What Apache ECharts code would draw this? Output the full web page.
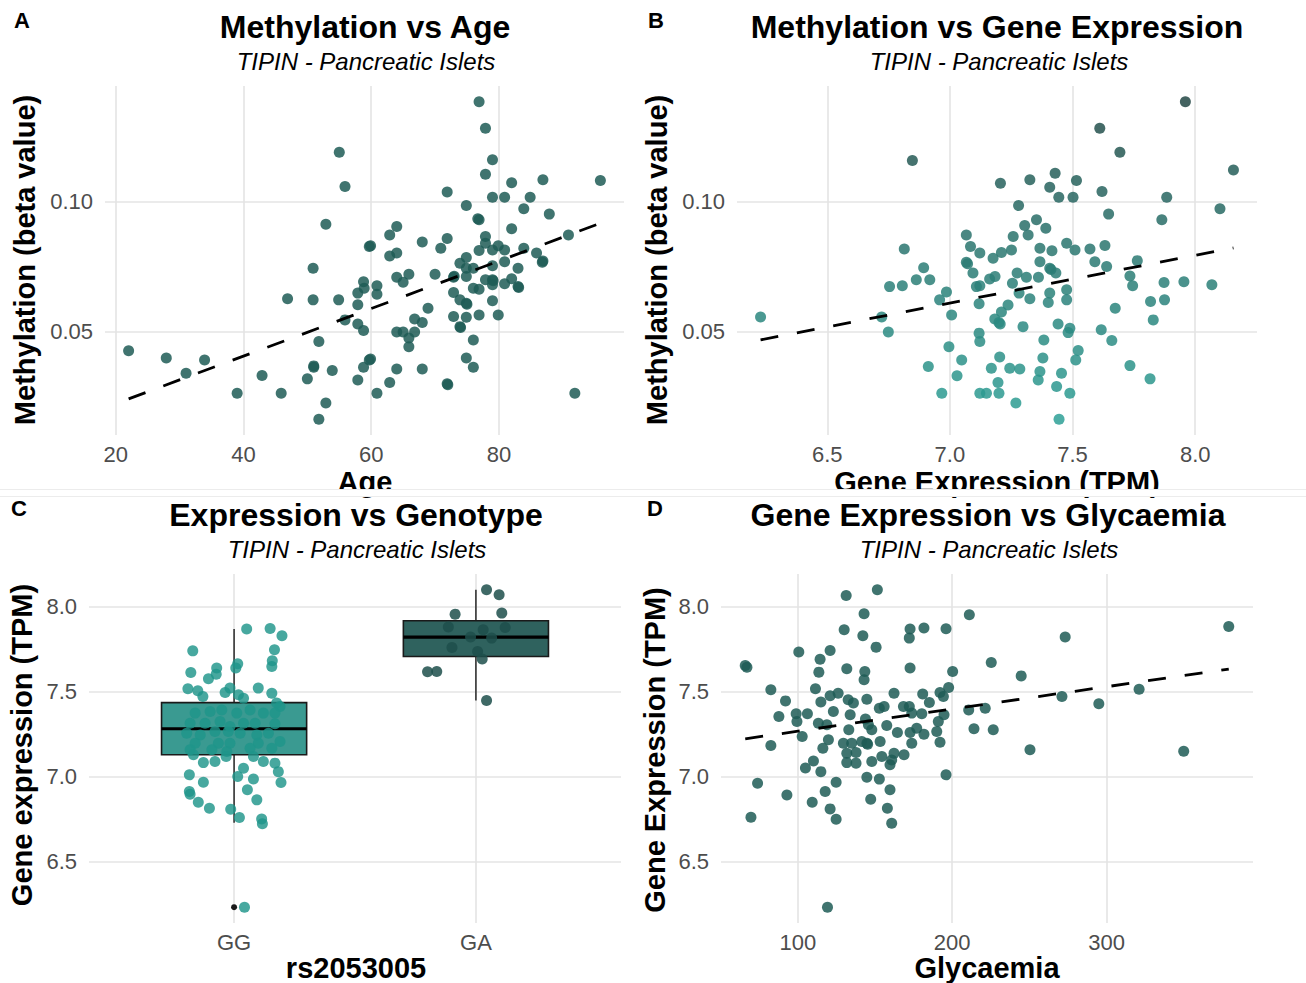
<!DOCTYPE html>
<html>
<head>
<meta charset="utf-8">
<title>TIPIN - Pancreatic Islets</title>
<script src="https://cdn.jsdelivr.net/npm/echarts@6/dist/echarts.min.js"></script>
<style>
  html, body { margin: 0; padding: 0; background: #ffffff; }
  #chart { width: 1306px; height: 983px; }
</style>
</head>
<body>
<div id="chart"></div>
<script>
// ---------- Panel A: methylation (beta value) against age ----------
const ageMethylation = [
  [55.0,0.1191],[55.9,0.1059],[52.9,0.0914],[59.7,0.0828],[50.9,0.0745],[46.9,0.0627],[50.9,0.0623],[54.9,0.0623],
  [58.8,0.0693],[57.9,0.0649],[57.9,0.0604],[55.9,0.0546],[57.9,0.0530],[58.8,0.0505],[51.8,0.0463],[22.0,0.0427],
  [27.9,0.0399],[33.9,0.0392],[31.0,0.0341],[51.0,0.0369],[51.0,0.0364],[53.9,0.0351],[50.0,0.0319],[42.9,0.0332],
  [57.9,0.0315],[59.7,0.0392],[58.8,0.0364],[39.0,0.0264],[45.9,0.0264],[52.9,0.0226],[51.8,0.0164],
  [76.9,0.1385],[77.9,0.1283],[79.0,0.1162],[77.9,0.1106],[82.0,0.1074],[86.9,0.1085],[95.9,0.1082],[71.9,0.1038],
  [79.0,0.1018],[80.9,0.1018],[84.9,0.1018],[83.9,0.0974],[87.9,0.0953],[74.9,0.0986],[76.9,0.0931],[76.7,0.0935],
  [64.0,0.0905],[62.9,0.0873],[59.9,0.0831],[62.9,0.0792],[64.0,0.0803],[68.0,0.0846],[70.9,0.0822],[71.9,0.0859],
  [77.9,0.0867],[77.9,0.0841],[76.9,0.0813],[79.0,0.0815],[79.9,0.0831],[80.9,0.0815],[82.0,0.0897],[83.9,0.0822],
  [85.9,0.0803],[86.9,0.0773],[86.8,0.0768],[90.9,0.0873],[74.9,0.0786],[73.9,0.0764],[74.9,0.0745],[76.0,0.0745],
  [79.0,0.0754],[80.9,0.0770],[83.0,0.0745],[72.9,0.0710],[73.0,0.0714],[74.9,0.0713],[70.0,0.0722],[65.9,0.0722],
  [64.0,0.0710],[65.0,0.0691],[58.9,0.0668],[60.9,0.0677],[60.9,0.0645],[76.0,0.0668],[76.9,0.0664],[77.9,0.0700],
  [79.0,0.0700],[79.1,0.0697],[79.0,0.0681],[80.9,0.0685],[82.0,0.0704],[83.0,0.0674],[83.1,0.0671],[72.9,0.0651],
  [73.9,0.0623],[74.9,0.0610],[75.0,0.0606],[79.0,0.0620],[68.9,0.0591],[66.8,0.0549],[68.0,0.0536],[72.9,0.0559],
  [74.9,0.0556],[76.9,0.0565],[79.9,0.0565],[73.9,0.0520],[74.0,0.0517],[64.0,0.0499],[65.0,0.0499],[65.9,0.0476],
  [66.8,0.0499],[65.9,0.0443],[76.0,0.0469],[59.9,0.0395],[64.0,0.0357],[68.0,0.0357],[74.9,0.0399],[76.0,0.0364],
  [62.9,0.0305],[60.9,0.0264],[71.9,0.0300],[72.0,0.0296],[91.9,0.0264]
];
const ageTrend = [[22.0,0.0242],[95.9,0.0918]];

// ---------- Panel B: methylation against gene expression (TPM) ----------
const expressionMethylation = [
  [6.847,0.1159],[6.228,0.0557],[6.749,0.0499],[6.722,0.0557],[6.754,0.0674],[6.806,0.0677],[6.814,0.0819],[6.863,0.0700],
  [6.893,0.0747],[6.918,0.0700],[6.986,0.0653],[6.958,0.0623],[7.007,0.0565],[6.996,0.0443],[6.912,0.0367],[7.048,0.0392],
  [7.029,0.0331],[6.967,0.0264],[7.067,0.0873],[7.084,0.0828],[7.067,0.0768],[7.072,0.0762],[7.094,0.0726],[7.108,0.0674],
  [7.119,0.0608],[7.119,0.0495],[7.122,0.0463],[7.122,0.0264],
  [7.960,0.1385],[7.611,0.1283],[7.693,0.1191],[8.156,0.1123],[7.429,0.1110],[7.326,0.1085],[7.206,0.1072],[7.516,0.1082],
  [7.407,0.1056],[7.620,0.1040],[7.444,0.1018],[7.502,0.1018],[7.884,0.1018],[8.101,0.0974],[7.280,0.0986],[7.647,0.0953],
  [7.864,0.0931],[7.353,0.0931],[7.305,0.0909],[7.391,0.0899],[7.319,0.0873],[7.258,0.0867],[7.122,0.0803],[7.176,0.0783],
  [7.210,0.0805],[7.251,0.0815],[7.367,0.0822],[7.416,0.0812],[7.476,0.0841],[7.510,0.0815],[7.571,0.0819],[7.632,0.0832],
  [7.367,0.0770],[7.407,0.0745],[7.412,0.0740],[7.432,0.0726],[7.591,0.0770],[7.639,0.0751],[7.764,0.0774],[7.734,0.0715],
  [7.745,0.0677],[7.122,0.0677],[7.162,0.0703],[7.184,0.0713],[7.274,0.0726],[7.312,0.0710],[7.361,0.0710],[7.255,0.0687],
  [7.282,0.0649],[7.326,0.0627],[7.407,0.0649],[7.401,0.0613],[7.476,0.0662],[7.476,0.0623],[7.237,0.0603],[7.210,0.0576],
  [7.183,0.0549],[7.200,0.0536],[7.205,0.0530],[7.298,0.0520],[7.441,0.0530],[7.489,0.0514],[7.482,0.0497],[7.674,0.0591],
  [7.818,0.0617],[7.875,0.0623],[7.873,0.0690],[7.954,0.0693],[8.068,0.0681],[7.829,0.0546],[7.617,0.0508],[7.660,0.0467],
  [7.734,0.0370],[7.816,0.0319],[7.383,0.0469],[7.379,0.0399],[7.523,0.0428],[7.513,0.0392],[7.203,0.0403],[7.169,0.0360],
  [7.244,0.0360],[7.285,0.0357],[7.367,0.0347],[7.360,0.0315],[7.455,0.0341],[7.196,0.0305],[7.149,0.0264],[7.200,0.0264],
  [7.435,0.0290],[7.489,0.0264],[7.269,0.0226],[7.445,0.0164]
];
const expressionTrend = [[6.228,0.0469],[8.156,0.0823]];

// ---------- Panel C: expression by rs2053005 genotype ----------
const genotypes = ['GG', 'GA'];
// five-number summaries: lower whisker, Q1, median, Q3, upper whisker
const genotypeBoxStats = [
  [6.729, 7.128, 7.281, 7.435, 7.867],
  [7.447, 7.706, 7.820, 7.916, 8.098]
];
const ggOutliers = [6.232];
const ggExpression = [
  7.867,7.871,7.828,7.739,7.745,7.681,7.647,7.663,7.638,7.638,7.612,7.602,7.575,7.516,7.504,7.471,7.494,7.520,7.481,7.520,
  7.490,7.432,7.412,7.461,7.373,7.382,7.392,7.373,7.392,7.373,7.373,7.314,7.314,7.324,7.294,7.314,7.314,7.310,7.255,7.245,
  7.265,7.265,7.255,7.245,7.255,7.196,7.196,7.196,7.196,7.206,7.157,7.157,7.147,7.167,7.167,7.128,7.082,7.088,7.118,7.118,
  7.088,7.079,7.029,7.049,7.010,7.000,6.986,6.965,6.967,6.912,6.896,6.922,6.849,6.863,6.814,6.808,6.759,6.751,6.722,6.232
];
const ggJitter = [
  0.052,0.149,0.198,-0.171,0.167,0.158,0.156,0.015,0.007,-0.072,-0.179,-0.074,-0.106,-0.191,-0.150,-0.129,-0.037,-0.017,0.018,0.100,
  0.156,0.176,0.190,0.039,-0.161,-0.099,-0.051,0.011,0.066,0.121,0.169,-0.182,-0.120,-0.058,-0.017,0.039,0.087,0.169,-0.196,-0.140,
  -0.079,-0.024,0.025,0.094,0.142,-0.161,-0.065,-0.017,0.100,0.190,-0.182,-0.092,-0.030,0.066,0.156,-0.168,-0.127,-0.079,-0.033,0.080,
  0.121,0.169,0.183,0.039,-0.185,0.015,0.080,0.194,-0.127,-0.185,-0.182,0.055,-0.148,0.094,-0.102,-0.014,0.022,0.114,0.117,0.043
];
const gaExpression = [8.098,8.069,7.955,7.961,7.879,7.876,7.863,7.820,7.814,7.759,7.735,7.691,7.616,7.618,7.447];
const gaJitter = [0.044,0.096,-0.086,0.107,-0.114,0.121,0.030,-0.022,0.065,-0.099,0.007,0.026,-0.200,-0.162,0.044];

// ---------- Panel D: gene expression against glycaemia ----------
const glycaemiaExpression = [
  [65.9,7.653],[67.0,7.643],[131.3,8.065],[151.5,8.098],[142.9,7.957],[130.0,7.863],[142.1,7.828],[150.7,7.761],
  [100.6,7.732],[120.9,7.741],[114.4,7.690],[113.6,7.614],[131.7,7.634],[143.4,7.618],[142.9,7.569],[172.7,7.867],
  [172.2,7.814],[181.7,7.873],[196.0,7.869],[211.1,7.951],[172.7,7.638],[200.3,7.618],[225.3,7.671],[82.5,7.510],
  [92.0,7.445],[87.7,7.353],[98.9,7.369],[99.4,7.324],[106.2,7.369],[102.8,7.235],[82.5,7.182],[111.4,7.516],
  [114.9,7.438],[120.9,7.475],[126.1,7.490],[123.0,7.382],[113.3,7.314],[118.8,7.304],[132.6,7.451],[136.0,7.432],
  [133.9,7.363],[133.0,7.275],[144.7,7.455],[143.8,7.338],[152.8,7.402],[155.9,7.412],[162.3,7.490],[168.4,7.412],
  [172.2,7.412],[173.8,7.373],[180.3,7.369],[180.9,7.485],[185.2,7.435],[192.1,7.494],[194.3,7.471],[197.7,7.524],
  [194.7,7.363],[191.0,7.324],[190.0,7.265],[192.1,7.202],[210.7,7.392],[221.4,7.402],[214.1,7.281],[226.6,7.275],
  [196.0,7.010],[145.7,7.304],[147.9,7.275],[157.6,7.300],[164.5,7.259],[172.7,7.259],[173.8,7.196],[181.7,7.249],
  [177.0,7.284],[129.5,7.196],[134.9,7.196],[141.4,7.206],[144.7,7.196],[145.2,7.190],[153.3,7.206],[119.8,7.216],
  [116.2,7.167],[131.7,7.137],[137.7,7.141],[131.7,7.082],[137.7,7.079],[147.9,7.088],[154.4,7.118],[160.8,7.098],
  [159.7,7.069],[162.3,7.137],[168.8,7.128],[110.1,7.092],[104.9,7.051],[114.9,7.029],[144.7,6.996],[152.8,6.985],
  [124.8,6.967],[117.7,6.912],[73.9,6.961],[92.9,6.892],[109.3,6.849],[147.2,6.867],[159.7,6.922],[120.9,6.810],
  [124.8,6.749],[158.0,6.814],[160.8,6.726],[69.6,6.761],[119.2,6.232],[379.2,7.882],[273.2,7.820],[244.7,7.592],
  [271.1,7.471],[250.4,7.157],[295.0,7.428],[321.1,7.514],[350.0,7.149]
];
const glycaemiaTrend = [[65.9,7.222],[379.2,7.632]];

// ---------- tick labels ----------
const ageTicks = [20, 40, 60, 80];
const methylationTicks = [0.05, 0.10];
const expressionTicks = [6.5, 7.0, 7.5, 8.0];
const genotypeTicks = [1, 2];
const glycaemiaTicks = [100, 200, 300];

// ---------- styling ----------
const FONT = '"Liberation Sans", Arial, sans-serif';
const GRID_COLOR = '#e4e4e4';
const TICK_COLOR = '#4d4d4d';
const POINT_DARK = '#1f5c56';
const GG_FILL = '#3a9a91';
const GA_FILL = '#2f625e';
const POINT_SIZE = 11;

function valueAxis(gridIndex, min, max, ticks, fmt, isY) {
  return {
    type: 'value', gridIndex, min, max, scale: true,
    axisLine: { show: false },
    axisTick: { show: false, customValues: ticks },
    splitLine: { show: true, lineStyle: { color: GRID_COLOR, width: 1.6 } },
    axisLabel: {
      customValues: ticks, formatter: fmt,
      color: TICK_COLOR, fontSize: 22, fontFamily: FONT,
      margin: isY ? 12 : 8
    }
  };
}

const fixed = d => v => Number(v).toFixed(d);

const trendLine = (xi, yi, data) => ({
  type: 'line', xAxisIndex: xi, yAxisIndex: yi, data,
  showSymbol: false, silent: true, z: 5,
  lineStyle: { color: '#000', width: 2.8, type: [18, 19] }
});

const scatter = (xi, yi, data, color, extra) => Object.assign({
  type: 'scatter', xAxisIndex: xi, yAxisIndex: yi, data,
  symbolSize: POINT_SIZE, silent: true,
  itemStyle: { color, opacity: 0.85 }
}, extra || {});

function renderBox(params, api) {
  const x = api.value(0);
  const half = api.size([0.3, 0])[0];
  const pLo = api.coord([x, api.value(1)]);
  const pQ1 = api.coord([x, api.value(2)]);
  const pMed = api.coord([x, api.value(3)]);
  const pQ3 = api.coord([x, api.value(4)]);
  const pHi = api.coord([x, api.value(5)]);
  const fill = params.dataIndex === 0 ? GG_FILL : GA_FILL;
  return {
    type: 'group',
    children: [
      { type: 'line', shape: { x1: pHi[0], y1: pHi[1], x2: pQ3[0], y2: pQ3[1] }, style: { stroke: '#333', lineWidth: 1.6 } },
      { type: 'line', shape: { x1: pQ1[0], y1: pQ1[1], x2: pLo[0], y2: pLo[1] }, style: { stroke: '#333', lineWidth: 1.6 } },
      { type: 'rect', shape: { x: pQ3[0] - half, y: pQ3[1], width: half * 2, height: pQ1[1] - pQ3[1] },
        style: { fill, stroke: '#1a1a1a', lineWidth: 1.6 } },
      { type: 'line', shape: { x1: pMed[0] - half, y1: pMed[1], x2: pMed[0] + half, y2: pMed[1] }, style: { stroke: '#000', lineWidth: 3.2 } }
    ]
  };
}

function text(x, y, str, font, extra) {
  return Object.assign({
    type: 'text', x, y, silent: true, z: 20,
    style: { text: str, font, fill: '#000', align: 'center', verticalAlign: 'middle' }
  }, extra || {});
}

const TITLE_FONT = 'bold 32px ' + FONT;
const SUB_FONT = 'italic 24px ' + FONT;
const AXIS_FONT = 'bold 29px ' + FONT;
const TAG_FONT = 'bold 22px ' + FONT;
const vertical = { rotation: Math.PI / 2 };

const chart = echarts.init(document.getElementById('chart'), null, { renderer: 'svg' });

chart.setOption({
  backgroundColor: '#ffffff',
  animation: false,
  grid: [
    { left: 105, top: 86, width: 519, height: 349 },
    { left: 737, top: 86, width: 520, height: 349 },
    { left: 89, top: 574, width: 532, height: 349 },
    { left: 721, top: 574, width: 532, height: 349 }
  ],
  xAxis: [
    valueAxis(0, 18.3, 99.6, ageTicks, v => String(v), false),
    valueAxis(1, 6.132, 8.252, expressionTicks, fixed(1), false),
    valueAxis(2, 0.4, 2.6, genotypeTicks, v => genotypes[Math.round(v) - 1], false),
    valueAxis(3, 50.2, 394.9, glycaemiaTicks, v => String(v), false)
  ],
  yAxis: [
    valueAxis(0, 0.0103, 0.1446, methylationTicks, fixed(2), true),
    valueAxis(1, 0.0103, 0.1446, methylationTicks, fixed(2), true),
    valueAxis(2, 6.139, 8.191, expressionTicks, fixed(1), true),
    valueAxis(3, 6.139, 8.191, expressionTicks, fixed(1), true)
  ],
  visualMap: [{
    type: 'continuous', show: false, seriesIndex: 2, dimension: 1,
    min: 0.016, max: 0.139,
    inRange: { color: ['#2ea096', '#2b7a73', '#234845'] }
  }],
  series: [
    scatter(0, 0, ageMethylation, POINT_DARK),
    trendLine(0, 0, ageTrend),
    scatter(1, 1, expressionMethylation, '#2b7a73'),
    trendLine(1, 1, expressionTrend),
    {
      type: 'custom', xAxisIndex: 2, yAxisIndex: 2, silent: true, z: 1,
      data: genotypeBoxStats.map((s, i) => [genotypeTicks[i]].concat(s)),
      encode: { x: 0, y: [1, 2, 3, 4, 5] },
      renderItem: renderBox
    },
    scatter(2, 2, ggExpression.map((v, i) => [genotypeTicks[0] + ggJitter[i], v]), '#1f958a', { z: 3, itemStyle: { color: '#1f958a', opacity: 0.82 } }),
    scatter(2, 2, gaExpression.map((v, i) => [genotypeTicks[1] + gaJitter[i], v]), '#1d4f4b', { z: 3 }),
    scatter(2, 2, ggOutliers.map(v => [genotypeTicks[0], v]), '#1a1a1a', { symbolSize: 6, z: 2, itemStyle: { color: '#1a1a1a', opacity: 1 } }),
    scatter(3, 3, glycaemiaExpression, POINT_DARK),
    trendLine(3, 3, glycaemiaTrend)
  ],
  graphic: [
    // panel tags
    text(22, 20, 'A', TAG_FONT),
    text(656, 20, 'B', TAG_FONT),
    text(19, 508, 'C', TAG_FONT),
    text(655, 508, 'D', TAG_FONT),
    // titles and subtitles
    text(365, 27, 'Methylation vs Age', TITLE_FONT),
    text(366, 61, 'TIPIN - Pancreatic Islets', SUB_FONT),
    text(997, 27, 'Methylation vs Gene Expression', TITLE_FONT),
    text(999, 61, 'TIPIN - Pancreatic Islets', SUB_FONT),
    text(356, 515, 'Expression vs Genotype', TITLE_FONT),
    text(357, 549, 'TIPIN - Pancreatic Islets', SUB_FONT),
    text(988, 515, 'Gene Expression vs Glycaemia', TITLE_FONT),
    text(989, 549, 'TIPIN - Pancreatic Islets', SUB_FONT),
    // axis titles
    text(25, 260, 'Methylation (beta value)', AXIS_FONT, vertical),
    text(365, 482, 'Age', AXIS_FONT),
    text(657, 260, 'Methylation (beta value)', AXIS_FONT, vertical),
    text(997, 482, 'Gene Expression (TPM)', AXIS_FONT),
    text(22, 745, 'Gene expression (TPM)', AXIS_FONT, vertical),
    text(356, 968, 'rs2053005', AXIS_FONT),
    text(655, 750, 'Gene Expression (TPM)', AXIS_FONT, vertical),
    text(987, 968, 'Glycaemia', AXIS_FONT),
    // seam between the upper and lower rows of panels
    { type: 'rect', z: 30, silent: true, shape: { x: 0, y: 489, width: 1306, height: 8 }, style: { fill: '#ffffff' } },
    { type: 'line', z: 31, silent: true, shape: { x1: 0, y1: 489.5, x2: 1306, y2: 489.5 }, style: { stroke: '#ececec', lineWidth: 1 } },
    { type: 'line', z: 31, silent: true, shape: { x1: 0, y1: 496.5, x2: 1306, y2: 496.5 }, style: { stroke: '#ececec', lineWidth: 1 } }
  ]
});
</script>
</body>
</html>
